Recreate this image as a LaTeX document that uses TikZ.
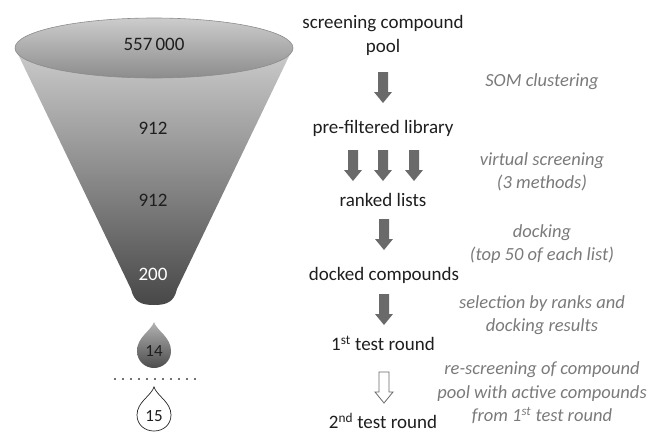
\documentclass[tikz,border=0pt]{standalone}
\usepackage{fontspec}
\setmainfont{Carlito}
\usetikzlibrary{calc}
\definecolor{txt}{HTML}{1E1E1E}
\definecolor{itx}{HTML}{7A7A7A}
\definecolor{arr}{HTML}{6A6A6A}
\tikzset{
  lbl/.style={inner sep=0pt, text=txt, font=\fontsize{19}{24}\selectfont, align=center},
  note/.style={inner sep=0pt, text=itx, font=\fontsize{18.5}{23.5}\selectfont\itshape, align=center},
  num/.style={inner sep=0pt, text=txt, font=\fontsize{19}{22}\selectfont},
  solidarrow/.style={fill=arr, draw=none},
  hollowarrow/.style={fill=white, draw=arr, line width=0.8pt},
}
\newcommand\blockarrow[2]{%
  \path[#1] (#2) +(-5,-14) -- +(-5,6) -- +(-9,6) -- +(0,17) -- +(9,6) -- +(5,6) -- +(5,-14) -- cycle;}
\begin{document}
\begin{tikzpicture}[x=1pt,y=-1pt]
\useasboundingbox (0,0) rectangle (654,432);
% funnel body
\shade[top color=black!20, bottom color=black!72]
  (15,48) -- (131,289) .. controls (134,302) and (141,305) .. (154,305)
  .. controls (167,305) and (174,302) .. (177,289) -- (293,48) -- cycle;
% funnel top
\shade[top color=black!20, bottom color=black!45, draw=black!45, line width=0.6pt]
  (154,48) ellipse [x radius=139, y radius=30];
\node[num] (n557) at (154,44) {557\,000};
\node[num] (n912a) at (153,128) {912};
\node[num] (n912b) at (153,200) {912};
\node[num, text=white] (n200) at (153,274) {200};
% drop 14
\shade[top color=black!30, bottom color=black!70]
  (154,322) .. controls (157,331) and (171,337) .. (171,351)
  .. controls (171,361) and (163,368) .. (154,368)
  .. controls (145,368) and (137,361) .. (137,351)
  .. controls (137,337) and (151,331) .. (154,322) -- cycle;
\node[num, font=\fontsize{17}{20}\selectfont] (d14) at (154,351) {14};
% dotted separator
\draw[black!55, line width=1.6pt, dash pattern=on 1.6pt off 6.4pt] (114,379) -- (196,379);
% drop 15
\draw[fill=white, draw=black!85, line width=0.7pt]
  (154,387) .. controls (157,396) and (171,402) .. (171,415)
  .. controls (171,425) and (163,431) .. (154,431)
  .. controls (145,431) and (137,425) .. (137,415)
  .. controls (137,402) and (151,396) .. (154,387) -- cycle;
\node[num, font=\fontsize{17}{20}\selectfont] (d15) at (154,416) {15};
% right column
\node[lbl] (pool) at (383,35) {screening compound\\pool};
\node[lbl] (lib) at (383,128) {pre-filtered library};
\node[lbl] (ranked) at (383,200) {ranked lists};
\node[lbl] (docked) at (384,275) {docked compounds};
\node[lbl] (test1) at (383,343) {1\textsuperscript{st} test round};
\node[lbl] (test2) at (383,421) {2\textsuperscript{nd} test round};
% notes
\node[note] (som) at (542,82) {SOM clustering};
\node[note] (vs) at (542,172) {virtual screening\\(3 methods)};
\node[note] (dock) at (542,244) {docking\\(top 50 of each list)};
\node[note] (sel) at (542,315) {selection by ranks and\\docking results};
\node[note] (res) at (542,393) {re-screening of compound\\pool with active compounds\\from 1\textsuperscript{st} test round};
% arrows
\coordinate (a1) at (383,86);
\coordinate (a2) at (383,164);
\coordinate (a3) at (384,233);
\coordinate (a4) at (384,308);
\coordinate (a5) at (384,386);
\blockarrow{solidarrow}{a1}
\blockarrow{solidarrow}{$(a2)+(-30,0)$}
\blockarrow{solidarrow}{a2}
\blockarrow{solidarrow}{$(a2)+(31,0)$}
\blockarrow{solidarrow}{a3}
\blockarrow{solidarrow}{a4}
\blockarrow{hollowarrow}{a5}
\end{tikzpicture}
\end{document}
